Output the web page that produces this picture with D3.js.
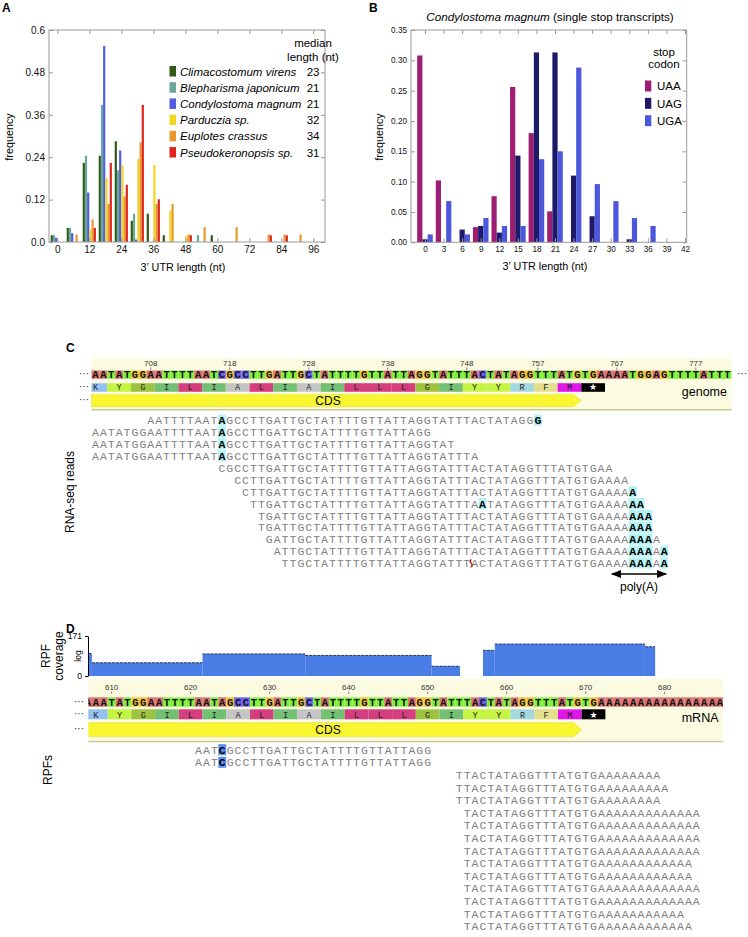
<!DOCTYPE html>
<html><head><meta charset="utf-8">
<script src="https://cdnjs.cloudflare.com/ajax/libs/d3/7.8.5/d3.min.js"></script>
<style>body{margin:0;background:#fff}svg{display:block}</style>
</head><body>
<svg id="fig" width="748" height="937"></svg>
<script>
// ================= DATA =================
// Panel A
const binsA = [0,6,12,18,24,30,36,42,48,54,60,66,72,78,84,90];
const speciesA = ["Climacostomum virens","Blepharisma japonicum","Condylostoma magnum","Parduczia sp.","Euplotes crassus","Pseudokeronopsis sp."];
const medianA = ["23","21","21","32","34","31"];
const cVirens   = [0.019,0.040,0.224,0.244,0.285,0.060,0.080,0.019,0,0,0.019,0,0,0,0,0];
const bJaponicum= [0.019,0.040,0.244,0.388,0.203,0.080,0,0,0,0.019,0,0,0,0,0,0];
const cMagnum   = [0.012,0.025,0.140,0.555,0.259,0.007,0,0,0,0,0,0,0,0,0,0];
const parduczia = [0,0,0.035,0.181,0.218,0.235,0.218,0.089,0.017,0,0,0,0,0,0,0];
const eCrassus  = [0,0.021,0.064,0.108,0.129,0.282,0.108,0.108,0.021,0.042,0,0.042,0,0.021,0.021,0.021];
const pseudoker = [0,0,0.040,0.224,0.162,0.388,0.121,0,0.019,0,0,0,0,0.019,0.019,0];
const xTicksA = [0,12,24,36,48,60,72,84,96];
const yTicksA = [0,0.12,0.24,0.36,0.48,0.6];
const yTickLabelsA = ["0.0","0.12","0.24","0.36","0.48","0.6"];
// Panel B
const binsB = [0,3,6,9,12,15,18,21,24,27,30,33,36];
const codonsB = ["UAA","UAG","UGA"];
const uaa = [0.308,0.102,0,0.025,0.076,0.256,0.180,0.051,0,0,0,0,0];
const uag = [0.005,0,0.021,0.027,0.016,0.143,0.313,0.313,0.110,0.043,0,0.005,0];
const uga = [0.013,0.068,0.013,0.040,0.027,0.027,0.137,0.150,0.288,0.096,0.068,0.040,0.027];
const xTicksB = [0,3,6,9,12,15,18,21,24,27,30,33,36,39,42];
const yTicksB = [0,0.05,0.10,0.15,0.20,0.25,0.30,0.35];
// Panel C
const genomeSeq = "AATATGGAATTTTAATCGCCTTGATTGCTATTTTGTTATTAGGTATTTACTATAGGTTTATGTGAAAATGGAGTTTTATTT";
const aaSeq = ["K","Y","G","I","L","I","A","L","I","A","I","L","L","L","G","I","Y","Y","R","F","M","*"];
const genomeTickIdx = [7,17,27,37,47,56,66,76];
const genomeTickLabels = ["708","718","728","738","748","757","767","777"];
const readStarts = [7,0,0,0,16,18,19,20,21,21,22,23,24];
const readSeqs = [
 "AATTTTAATAGCCTTGATTGCTATTTTGTTATTAGGTATTTACTATAGGG",
 "AATATGGAATTTTAATAGCCTTGATTGCTATTTTGTTATTAGG",
 "AATATGGAATTTTAATAGCCTTGATTGCTATTTTGTTATTAGGTAT",
 "AATATGGAATTTTAATAGCCTTGATTGCTATTTTGTTATTAGGTATTTA",
 "CGCCTTGATTGCTATTTTGTTATTAGGTATTTACTATAGGTTTATGTGAA",
 "CCTTGATTGCTATTTTGTTATTAGGTATTTACTATAGGTTTATGTGAAAA",
 "CTTGATTGCTATTTTGTTATTAGGTATTTACTATAGGTTTATGTGAAAAA",
 "TTGATTGCTATTTTGTTATTAGGTATTTAATATAGGTTTATGTGAAAAAA",
 "TGATTGCTATTTTGTTATTAGGTATTTACTATAGGTTTATGTGAAAAAAA",
 "TGATTGCTATTTTGTTATTAGGTATTTACTATAGGTTTATGTGAAAAAAA",
 "GATTGCTATTTTGTTATTAGGTATTTACTATAGGTTTATGTGAAAAAAAA",
 "ATTGCTATTTTGTTATTAGGTATTTACTATAGGTTTATGTGAAAAAAAAA",
 "TTGCTATTTTGTTATTAGGTATTTACTATAGGTTTATGTGAAAAAAAAA"];
const readHighlights = [[16,56],[16],[16],[16],[],[],[68],[49,68,69],[68,69,70],[68,69,70],[68,69,70],[68,69,70,72],[68,69,70,72]];
const readInsertions = [[],[],[],[],[],[],[],[],[],[],[],[],[48]];
// Panel D
const mrnaSeq = "AAATATGGAATTTTAATAGCCTTGATTGCTATTTTGTTATTAGGTATTTACTATAGGTTTATGTGAAAAAAAAAAAAAAAA";
const mrnaTickIdx = [3,13,23,33,43,53,63,73];
const mrnaTickLabels = ["610","620","630","640","650","660","670","680"];
const rpfStarts = [14,14,47,47,47,48,48,48,48,48,48,48,48,48,48];
const rpfSeqs = [
 "AATCGCCTTGATTGCTATTTTGTTATTAGG",
 "AATCGCCTTGATTGCTATTTTGTTATTAGG",
 "TTACTATAGGTTTATGTGAAAAAAAA",
 "TTACTATAGGTTTATGTGAAAAAAAAA",
 "TTACTATAGGTTTATGTGAAAAAAAA",
 "TACTATAGGTTTATGTGAAAAAAAAAAAAA",
 "TACTATAGGTTTATGTGAAAAAAAAAAAAA",
 "TACTATAGGTTTATGTGAAAAAAAAAAAAA",
 "TACTATAGGTTTATGTGAAAAAAAAAAAAA",
 "TACTATAGGTTTATGTGAAAAAAAAAAAA",
 "TACTATAGGTTTATGTGAAAAAAAAAAAA",
 "TACTATAGGTTTATGTGAAAAAAAAAAAAA",
 "TACTATAGGTTTATGTGAAAAAAAAAAAAA",
 "TACTATAGGTTTATGTGAAAAAAAAAAA",
 "TACTATAGGTTTATGTGAAAAAAAAAAAA"];
const rpfHighlights = [[17],[17],[],[],[],[],[],[],[],[],[],[],[],[],[]];
// RPF coverage (segments on mRNA index, log-scaled counts)
const covFrom = [0.5,1,15,28,44,50.5,52,71];
const covTo   = [1,15,28,44,47.6,52,71,72.3];
const covVal  = [18,5.5,17,14,3.5,27,61,43];

// ================= STYLE =================
const SANS = "'Liberation Sans', Arial, Helvetica, sans-serif";
const MONO = "'Liberation Mono', 'Courier New', monospace";
const colorsA = ["#2f5a17","#69a99a","#4f5ce0","#f3d61f","#e8992b","#e1231c"];
const colorsB = ["#9c1d71","#1e1a6a","#4c57db"];
const ntColor = {A:"#dc7474",T:"#80f23e",G:"#f3c43c",C:"#7064f0"};
const aaColor = {K:"#93c1f4",Y:"#c4f545",G:"#9ec340",I:"#73bf74",L:"#d43e7e",A:"#c5c5c5",R:"#a4d8e0",F:"#e3df8d",M:"#e017e8","*":"#000"};
const BAND = "#fbfbe1";

const svg = d3.select("#fig");
function txt(g,x,y,s,size,opts={}){
  const t=g.append("text").attr("x",x).attr("y",y).attr("font-family",opts.family||SANS)
   .attr("font-size",size).attr("fill",opts.fill||"#000").text(s);
  if(opts.anchor) t.attr("text-anchor",opts.anchor);
  if(opts.weight) t.attr("font-weight",opts.weight);
  if(opts.italic) t.attr("font-style","italic");
  if(opts.rotate) t.attr("transform",`rotate(-90,${x},${y})`);
  return t;
}
txt(svg,2,12,"A",12,{weight:"bold"});
txt(svg,369,12,"B",12,{weight:"bold"});
txt(svg,66,352,"C",12,{weight:"bold"});
txt(svg,66,633,"D",12,{weight:"bold"});

function framedAxes(g,x,y,L,R,T,B,xt,yt,xfmt,yfmt,fs){
  g.append("rect").attr("x",L).attr("y",T).attr("width",R-L).attr("height",B-T)
   .attr("fill","none").attr("stroke","#9a9a9a").attr("stroke-width",1);
  const style=a=>{a.select(".domain").remove();a.selectAll("line").attr("stroke","#9a9a9a");
    a.selectAll("text").attr("font-family",SANS).attr("font-size",fs).attr("fill","#111");};
  g.append("g").attr("transform",`translate(0,${B})`).call(d3.axisBottom(x).tickValues(xt).tickFormat(xfmt).tickSize(-4).tickSizeOuter(0).tickPadding(4)).call(style);
  g.append("g").attr("transform",`translate(0,${T})`).call(d3.axisTop(x).tickValues(xt).tickFormat("").tickSize(-4).tickSizeOuter(0)).call(style);
  g.append("g").attr("transform",`translate(${L},0)`).call(d3.axisLeft(y).tickValues(yt).tickFormat(yfmt).tickSize(-4).tickSizeOuter(0).tickPadding(4)).call(style);
  g.append("g").attr("transform",`translate(${R},0)`).call(d3.axisRight(y).tickValues(yt).tickFormat("").tickSize(-4).tickSizeOuter(0)).call(style);
}

// ================= PANEL A =================
(function(){
  const g=svg.append("g");
  const x=d3.scaleLinear().domain([0,96]).range([57.3,313.3]);
  const y=d3.scaleLinear().domain([0,0.6]).range([242,30]);
  const sub=d3.scaleBand().domain(d3.range(6)).range([-6.6,6.6]);
  const series=[cVirens,bJaponicum,cMagnum,parduczia,eCrassus,pseudoker];
  series.forEach((vals,s)=>{
    g.selectAll(null).data(binsA.map((b,i)=>({b,v:vals[i]})).filter(d=>d.v>0)).enter().append("rect")
      .attr("x",d=>x(d.b)+sub(s)).attr("width",sub.bandwidth())
      .attr("y",d=>y(d.v)).attr("height",d=>y(0)-y(d.v)).attr("fill",colorsA[s]);
  });
  framedAxes(g,x,y,49,325,30,242,xTicksA,yTicksA,d3.format("d"),(d,i)=>yTickLabelsA[i],10);
  txt(g,13,137,"frequency",10.8,{anchor:"middle",rotate:true});
  txt(g,183,271,"3\u2019 UTR length (nt)",10.8,{anchor:"middle"});
  txt(g,313,47,"median",11.5,{anchor:"middle"});
  txt(g,313,61,"length (nt)",11.5,{anchor:"middle"});
  const ly=d3.scalePoint().domain(d3.range(6)).range([71.5,152.5]);
  speciesA.forEach((s,i)=>{
    g.append("rect").attr("x",169.5).attr("y",ly(i)-5.5).attr("width",6.5).attr("height",10.5).attr("fill",colorsA[i]);
    txt(g,180,ly(i)+4,s,11.5,{italic:true});
    txt(g,319.5,ly(i)+4,medianA[i],11.5,{anchor:"end"});
  });
})();

// ================= PANEL B =================
(function(){
  const g=svg.append("g");
  const x=d3.scaleLinear().domain([0,42]).range([425,685]);
  const y=d3.scaleLinear().domain([0,0.35]).range([242.3,30]);
  const sub=d3.scaleBand().domain(codonsB).range([-7.8,7.8]);
  [uaa,uag,uga].forEach((vals,s)=>{
    g.selectAll(null).data(binsB.map((b,i)=>({b,v:vals[i]})).filter(d=>d.v>0)).enter().append("rect")
      .attr("x",d=>x(d.b)+sub(codonsB[s])).attr("width",sub.bandwidth())
      .attr("y",d=>y(d.v)).attr("height",d=>y(0)-y(d.v)).attr("fill",colorsB[s]);
  });
  framedAxes(g,x,y,411,686.7,30,242.3,xTicksB,yTicksB,d3.format("d"),d3.format(".2f"),8.2);
  const t=txt(g,550,21,"",11.7,{anchor:"middle"});
  t.append("tspan").attr("font-style","italic").text("Condylostoma magnum");
  t.append("tspan").text(" (single stop transcripts)");
  txt(g,383,137,"frequency",10.8,{anchor:"middle",rotate:true});
  txt(g,545,270,"3\u2019 UTR length (nt)",10.8,{anchor:"middle"});
  txt(g,664,55.5,"stop",11.5,{anchor:"middle"});
  txt(g,664,67.5,"codon",11.5,{anchor:"middle"});
  const ly=d3.scalePoint().domain(codonsB).range([86,120.7]);
  codonsB.forEach((c,i)=>{
    g.append("rect").attr("x",645).attr("y",ly(c)-5.5).attr("width",6.3).attr("height",11).attr("fill",colorsB[i]);
    txt(g,657,ly(c)+4.2,c,11.5);
  });
})();

// ================= SEQUENCE BANDS =================
function seqBand(o){
  const g=svg.append("g");
  const xs=o.x, cw=xs(1)-xs(0);
  let gg=g;
  if(o.clip){
    svg.append("clipPath").attr("id",o.clip).append("rect").attr("x",o.bx0).attr("y",o.by0-2).attr("width",o.bx1-o.bx0).attr("height",o.by1-o.by0+4);
    gg=g.append("g").attr("clip-path",`url(#${o.clip})`);
  }
  gg.append("rect").attr("x",o.bx0).attr("y",o.by0).attr("width",o.bx1-o.bx0).attr("height",o.by1-o.by0).attr("fill",BAND);
  o.tickIdx.forEach((k,i)=>{
    const cx=xs(k+0.5);
    txt(gg,cx,o.numY,o.tickLabels[i],8,{anchor:"middle",fill:"#333"});
    gg.append("line").attr("x1",cx).attr("x2",cx).attr("y1",o.numY+1.5).attr("y2",o.numY+4).attr("stroke","#666").attr("stroke-width",0.8);
  });
  const nts=o.seq.split("");
  gg.selectAll(null).data(nts).enter().append("rect")
    .attr("x",(d,i)=>xs(i)).attr("width",cw+0.05).attr("y",o.seqY).attr("height",o.seqH).attr("fill",d=>ntColor[d]);
  gg.selectAll(null).data(nts).enter().append("text")
    .attr("x",(d,i)=>xs(i+0.5)).attr("y",o.seqY+o.seqH-1.2).attr("text-anchor","middle")
    .attr("font-family",MONO).attr("font-size",o.seqFs).attr("font-weight","bold").attr("fill","#111").text(d=>d);
  const aas=o.aa.map((a,k)=>({a,s:o.aaStart+3*k}));
  gg.selectAll(null).data(aas).enter().append("rect")
    .attr("x",d=>xs(Math.max(d.s,0))).attr("width",d=>xs(d.s+3)-xs(Math.max(d.s,0)))
    .attr("y",o.aaY).attr("height",o.aaH).attr("fill",d=>aaColor[d.a]);
  gg.selectAll(null).data(aas).enter().append("text")
    .attr("x",d=>xs(d.s+1.5)).attr("y",o.aaY+o.aaH-1.8).attr("text-anchor","middle")
    .attr("font-family",d=>d.a==="*"?"'DejaVu Sans',sans-serif":MONO).attr("font-size",d=>d.a==="*"?9:8.5)
    .attr("fill",d=>d.a==="*"?"#fff":"#222").text(d=>d.a==="*"?"\u2605":d.a);
  const stopS=aas[aas.length-1].s, ax0=xs(Math.max(o.aaStart,0)), ax1=xs(stopS), h=o.cdsH;
  gg.append("path").attr("d",`M${ax0},${o.cdsY}L${ax1-8},${o.cdsY}L${ax1},${o.cdsY+h/2}L${ax1-8},${o.cdsY+h}L${ax0},${o.cdsY+h}Z`)
    .attr("fill","#f8f531").attr("stroke","#e6df44").attr("stroke-width",0.6);
  txt(gg,o.cdsTextX,o.cdsY+h/2+4.3,"CDS",12,{anchor:"middle"});
  g.append("line").attr("x1",o.bx0).attr("x2",o.bx1).attr("y1",o.lineY).attr("y2",o.lineY).attr("stroke","#c9c98e").attr("stroke-width",1.6);
  txt(g,o.labelX,o.labelY,o.label,12.5,{anchor:"end"});
  [o.seqY+o.seqH/2,o.aaY+o.aaH/2,o.cdsY+h/2].forEach(yy=>txt(g,o.dotsX,yy+2.5,"\u00b7\u00b7\u00b7",10,{anchor:"end",fill:"#222"}));
  if(o.rightDots) txt(g,747,o.seqY+o.seqH/2+2.5,"\u00b7\u00b7\u00b7",10,{anchor:"end",fill:"#222"});
  return xs;
}
function drawReads(g,xs,starts,seqs,hls,ins,y0,step,hlColor){
  const cw=xs(1)-xs(0);
  seqs.forEach((s,r)=>{
    const yy=y0+step*r;
    const chars=s.split("").map((c,j)=>({c,i:starts[r]+j,h:hls[r].includes(starts[r]+j)}));
    g.selectAll(null).data(chars.filter(d=>d.h)).enter().append("rect")
      .attr("x",d=>xs(d.i)).attr("width",cw).attr("y",yy-5.8).attr("height",11).attr("fill",hlColor);
    g.selectAll(null).data(chars).enter().append("text")
      .attr("x",d=>xs(d.i+0.5)).attr("y",yy+3.8).attr("text-anchor","middle")
      .attr("font-family",MONO).attr("font-size",11.5).attr("font-weight",d=>d.h?"bold":"normal")
      .attr("fill",d=>d.h?"#000":"#808080").text(d=>d.c);
    (ins[r]||[]).forEach(k=>{
      const xx=xs(k);
      g.append("path").attr("d",`M${xx+0.5},${yy-4}q-2,2 0,4q2,2 -0.5,4`).attr("fill","none").attr("stroke","#c00").attr("stroke-width",1.2);
    });
  });
}

// ================= PANEL C =================
(function(){
  const xs=d3.scaleLinear().domain([0,81]).range([91.5,91.5+81*7.9]);
  seqBand({x:xs,seq:genomeSeq,aa:aaSeq,aaStart:-1,tickIdx:genomeTickIdx,tickLabels:genomeTickLabels,
    bx0:91.5,bx1:731.6,by0:358,by1:409,numY:366,seqY:370.5,seqH:8.3,seqFs:10.5,aaY:383.2,aaH:8.6,cdsY:394.4,cdsH:12.3,
    lineY:409.8,cdsTextX:328,label:"genome",labelX:727,labelY:396,dotsX:89,rightDots:true});
  const g=svg.append("g");
  drawReads(g,xs,readStarts,readSeqs,readHighlights,readInsertions,420.5,11.9,"#b3f2f4");
  txt(g,74,492,"RNA-seq reads",12,{anchor:"middle",rotate:true});
  const ay=574, a0=xs(65.6), a1=xs(73);
  svg.append("defs").html('<marker id="ah" viewBox="0 0 10 10" refX="9" refY="5" markerWidth="7" markerHeight="7" orient="auto-start-reverse"><path d="M0,1L10,5L0,9z" fill="#000"/></marker>');
  g.append("line").attr("x1",a0+2).attr("x2",a1-2).attr("y1",ay).attr("y2",ay).attr("stroke","#000").attr("stroke-width",1.5)
    .attr("marker-start","url(#ah)").attr("marker-end","url(#ah)");
  txt(g,(a0+a1)/2,591,"poly(A)",12,{anchor:"middle"});
})();

// ================= PANEL D =================
(function(){
  const xs=d3.scaleLinear().domain([0,81]).range([84,84+81*7.9]);
  const g=svg.append("g");
  const yc=d3.scaleLog().domain([1,171]).range([676,636]);
  const segs=covFrom.map((f,i)=>({f,t:covTo[i],v:covVal[i]}));
  g.selectAll(null).data(segs).enter().append("rect")
    .attr("x",d=>xs(d.f)).attr("width",d=>xs(d.t)-xs(d.f)).attr("y",d=>yc(d.v)).attr("height",d=>yc(1)-yc(d.v)).attr("fill","#4b7de6");
  g.selectAll(null).data(segs).enter().append("line")
    .attr("x1",d=>xs(d.f)).attr("x2",d=>xs(d.t)).attr("y1",d=>yc(d.v)).attr("y2",d=>yc(d.v))
    .attr("stroke","#1b2a55").attr("stroke-width",0.9).attr("stroke-dasharray","3,1");
  g.append("g").attr("transform","translate(88,0)").call(d3.axisLeft(yc).tickValues([1,171]).tickFormat((d)=>d===1?"0":"171").tickSize(3).tickSizeOuter(0))
    .call(a=>{a.select(".domain").attr("stroke","#000");a.selectAll("text").attr("font-family",SANS).attr("font-size",8.5);});
  txt(g,81,656,"log",8.5,{anchor:"middle",rotate:true});
  txt(g,50,656,"RPF",12,{anchor:"middle",rotate:true});
  txt(g,63,656,"coverage",12,{anchor:"middle",rotate:true});
  seqBand({x:xs,seq:mrnaSeq,aa:aaSeq,aaStart:0,tickIdx:mrnaTickIdx,tickLabels:mrnaTickLabels,clip:"clipD",
    bx0:88.3,bx1:723,by0:679,by1:740,numY:690,seqY:697.3,seqH:9.4,seqFs:10.5,aaY:709.3,aaH:10,cdsY:722.7,cdsH:14,
    lineY:741.5,cdsTextX:328,label:"mRNA",labelX:718.5,labelY:722,dotsX:84,rightDots:false});
  const g2=svg.append("g");
  drawReads(g2,xs,rpfStarts,rpfSeqs,rpfHighlights,[],750,12.6,"#5b8ef0");
  txt(g2,52,770,"RPFs",12,{anchor:"middle",rotate:true});
})();
</script></body></html>
